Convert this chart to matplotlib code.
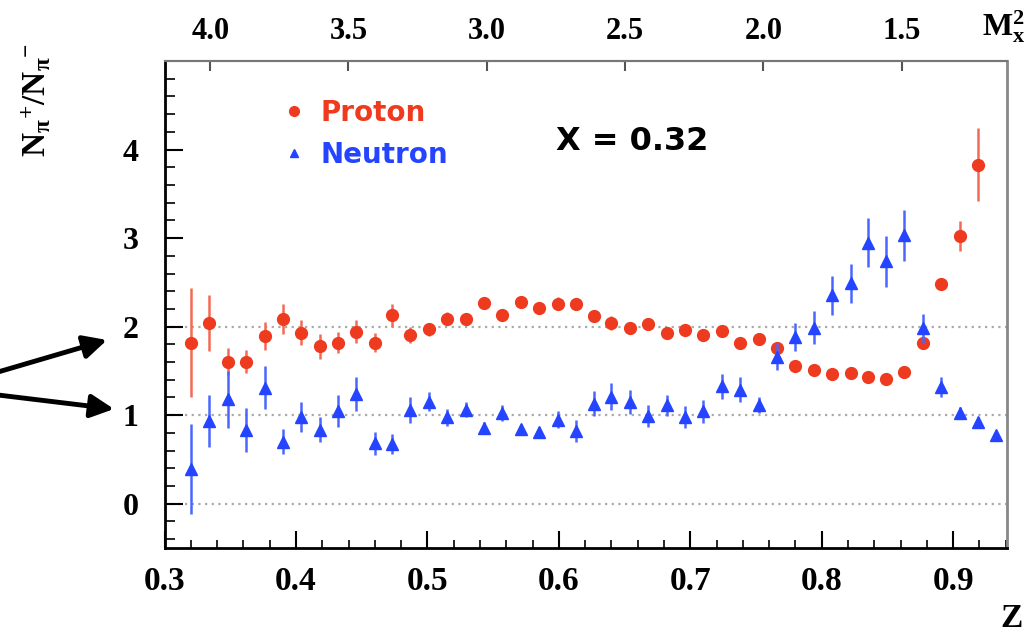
import numpy as np
import matplotlib.pyplot as plt
from matplotlib.lines import Line2D

# z bin centres
z = [0.320, 0.334, 0.348, 0.362, 0.376, 0.390, 0.404, 0.418, 0.432, 0.446,
     0.460, 0.473, 0.487, 0.501, 0.515, 0.529, 0.543, 0.557, 0.571, 0.585,
     0.599, 0.613, 0.627, 0.640, 0.654, 0.668, 0.682, 0.696, 0.710, 0.724,
     0.738, 0.752, 0.766, 0.780, 0.794, 0.808, 0.822, 0.835, 0.849, 0.863,
     0.877, 0.891, 0.905, 0.919, 0.933]

# N(pi+)/N(pi-) for proton target (44 bins)
proton = [1.82, 2.04, 1.605, 1.605, 1.895, 2.09, 1.93, 1.78, 1.82, 1.94,
          1.82, 2.13, 1.905, 1.97, 2.09, 2.086, 2.27, 2.13, 2.28, 2.21,
          2.26, 2.255, 2.12, 2.045, 1.99, 2.03, 1.93, 1.96, 1.905, 1.95,
          1.81, 1.864, 1.76, 1.555, 1.51, 1.47, 1.48, 1.434, 1.41, 1.49,
          1.81, 2.483, 3.02, 3.83]
proton_err = [0.62, 0.32, 0.15, 0.13, 0.16, 0.17, 0.14, 0.14, 0.12, 0.13,
              0.11, 0.13, 0.09, 0.07, 0.07, 0.07, 0.07, 0.06, 0.06, 0.06,
              0.07, 0.07, 0.07, 0.08, 0.06, 0.06, 0.06, 0.06, 0.06, 0.06,
              0.06, 0.06, 0.07, 0.04, 0.04, 0.04, 0.04, 0.04, 0.04, 0.04,
              0.05, 0.07, 0.17, 0.41]

# neutron (45 bins)
neutron = [0.39, 0.936, 1.18, 0.835, 1.31, 0.70, 0.977, 0.835, 1.05, 1.24,
           0.684, 0.673, 1.06, 1.154, 0.975, 1.064, 0.858, 1.02, 0.84, 0.81,
           0.95, 0.82, 1.13, 1.21, 1.15, 0.99, 1.11, 0.98, 1.045, 1.326,
           1.29, 1.12, 1.66, 1.88, 1.99, 2.355, 2.49, 2.95, 2.736, 3.03,
           1.98, 1.317, 1.026, 0.925, 0.78]
neutron_err = [0.51, 0.29, 0.32, 0.25, 0.24, 0.14, 0.17, 0.14, 0.18, 0.19,
               0.13, 0.11, 0.15, 0.11, 0.10, 0.09, 0.06, 0.09, 0.06, 0.06,
               0.10, 0.12, 0.14, 0.15, 0.14, 0.12, 0.12, 0.12, 0.13, 0.14,
               0.14, 0.09, 0.15, 0.16, 0.19, 0.22, 0.22, 0.28, 0.29, 0.29,
               0.16, 0.11, 0.07, 0.05, 0.0]

m2_ticks = [4.0, 3.5, 3.0, 2.5, 2.0, 1.5]

RED = '#ee3a1f'
BLUE = '#2444ff'
SERIF = 'Liberation Serif'

plt.rcParams['mathtext.fontset'] = 'custom'
plt.rcParams['mathtext.rm'] = 'Liberation Serif:bold'
plt.rcParams['mathtext.bf'] = 'Liberation Serif:bold'
plt.rcParams['mathtext.it'] = 'Liberation Serif:bold'


def z_to_m2(zz):
    return 5.59 - 4.751 * np.asarray(zz)


def m2_to_z(m):
    return (5.59 - np.asarray(m)) / 4.751


def main():
    fig = plt.figure(figsize=(10.29, 6.36), dpi=100)
    ax = fig.add_axes([0.160, 0.1384, 0.8186, 0.7656])

    ax.set_xlim(0.3, 0.941)
    ax.set_ylim(-0.5, 5.0)

    for yy in [0, 1, 2]:
        ax.axhline(yy, color='#aaaaaa', lw=1.6, ls=(0, (1, 2)), zorder=1)

    n_p = len(proton)
    ax.errorbar(z[:n_p], proton, yerr=proton_err, fmt='o', color=RED,
                ms=8.5, elinewidth=1.8, capsize=0, ecolor='#f26a55', zorder=3)
    ax.errorbar(z, neutron, yerr=neutron_err, fmt='^', color=BLUE,
                ms=8.5, elinewidth=1.8, capsize=0, ecolor='#4a66ff', zorder=4)

    # axes styling
    ax.spines['left'].set_linewidth(2.0)
    ax.spines['bottom'].set_linewidth(2.0)
    ax.spines['top'].set_color('#777777')
    ax.spines['right'].set_color('#888888')
    ax.spines['top'].set_linewidth(1.5)
    ax.spines['right'].set_linewidth(2.0)

    ax.set_xticks(np.arange(0.3, 0.95, 0.1))
    ax.set_xticks(np.arange(0.32, 0.95, 0.02), minor=True)
    ax.set_yticks([0, 1, 2, 3, 4])
    ax.set_yticks(np.arange(-0.4, 5.0, 0.2), minor=True)
    ax.set_xticklabels(['0.3', '0.4', '0.5', '0.6', '0.7', '0.8', '0.9'])
    ax.tick_params(axis='x', which='major', direction='in', length=12, width=1.5,
                   pad=13, top=False)
    ax.tick_params(axis='x', which='minor', direction='in', length=6, width=1.2,
                   top=False)
    ax.tick_params(axis='y', which='major', direction='in', length=13, width=1.5,
                   pad=19, right=False)
    ax.tick_params(axis='y', which='minor', direction='in', length=7, width=1.2,
                   right=False)
    for lab in ax.get_xticklabels():
        lab.set_fontfamily(SERIF)
        lab.set_fontweight('bold')
        lab.set_fontsize(24)
    for lab in ax.get_yticklabels():
        lab.set_fontfamily(SERIF)
        lab.set_fontweight('bold')
        lab.set_fontsize(23)

    # top axis: missing mass squared
    sec = ax.secondary_xaxis('top', functions=(z_to_m2, m2_to_z))
    sec.set_xticks(m2_ticks)
    sec.set_xticklabels(['%.1f' % m for m in m2_ticks])
    sec.tick_params(axis='x', direction='in', length=7, width=1.5,
                    color='#555555', pad=11)
    sec.spines['top'].set_color('#777777')
    sec.spines['top'].set_linewidth(1.5)
    for lab in sec.get_xticklabels():
        lab.set_fontfamily(SERIF)
        lab.set_fontweight('bold')
        lab.set_fontsize(22)

    # legend
    handles = [Line2D([], [], ls='none', marker='o', color=RED, ms=7),
               Line2D([], [], ls='none', marker='^', color=BLUE, ms=6)]
    ax.legend(handles, ['Proton', 'Neutron'], loc='upper left',
              bbox_to_anchor=(0.111, 0.973), frameon=False, handlelength=0.8,
              handletextpad=0.55, labelspacing=0.5, labelcolor=[RED, BLUE],
              prop={'family': 'DejaVu Sans', 'weight': 'bold', 'size': 20})

    ax.text(0.465, 0.834, 'X = 0.32', transform=ax.transAxes, fontsize=23,
            fontweight='bold', family='DejaVu Sans', color='black', va='center')

    # axis titles
    fig.text(0.036, 0.843, r'$\mathrm{N_{\pi}{}^{+}/N_{\pi}{}^{-}}$', rotation=90,
             fontsize=24, ha='center', va='center')
    fig.text(0.975, 0.958, r'$\mathrm{M_{x}^{2}}$', fontsize=23, ha='center',
             va='center')
    fig.text(0.983, 0.027, 'Z', fontsize=24, family=SERIF, fontweight='bold',
             ha='center', va='center')

    # arrows pointing at the 2 and 1 lines
    for tail, head in [((-2, 372), (107, 340)), ((-2, 395), (114, 409))]:
        ax.annotate('', xy=(head[0], 636 - head[1]), xycoords='figure pixels',
                    xytext=(tail[0], 636 - tail[1]), textcoords='figure pixels',
                    arrowprops=dict(arrowstyle='-|>,head_length=1.4,head_width=0.7',
                                    color='black', lw=3.5, shrinkA=0, shrinkB=0),
                    annotation_clip=False)

    fig.savefig('out.png', dpi=100)


if __name__ == '__main__':
    main()
